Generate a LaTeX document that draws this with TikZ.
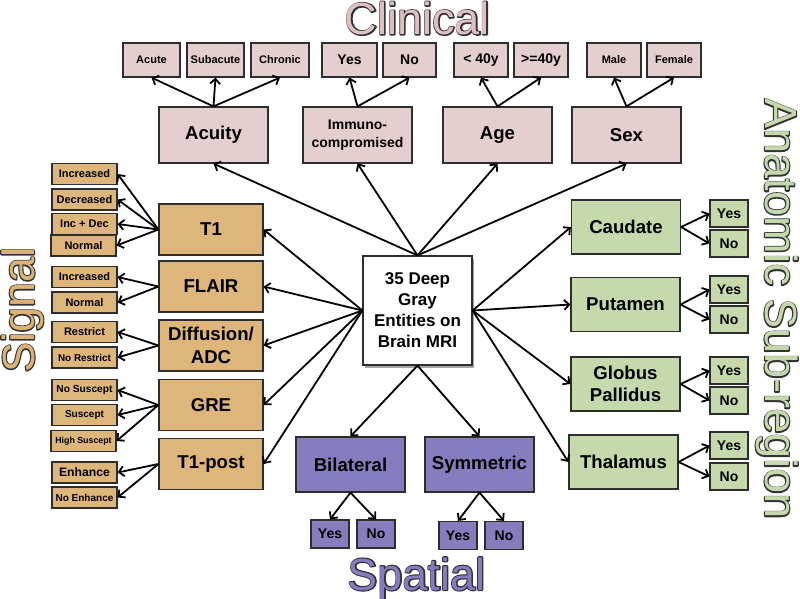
\documentclass[tikz,border=0pt]{standalone}
\usepackage{fontspec}
\setmainfont{Liberation Sans}
\usetikzlibrary{arrows.meta,shadows}
\definecolor{bord}{RGB}{45,45,45}
\definecolor{clinfill}{RGB}{229,206,207}
\definecolor{clintitle}{RGB}{222,192,194}
\definecolor{sigfill}{RGB}{222,181,122}
\definecolor{sigtitle}{RGB}{220,178,118}
\definecolor{anafill}{RGB}{197,217,172}
\definecolor{anatitle}{RGB}{197,217,172}
\definecolor{spafill}{RGB}{134,125,190}
\definecolor{spatitle}{RGB}{133,123,191}
\newcommand\myfs[2]{\fontsize{#1}{#2}\selectfont}
\newcommand\strokedtext[1]{\special{pdf:literal direct q 1 Tr 2.3 w 1 j 0.2 0.2 0.2 RG}#1\special{pdf:literal direct Q}}
\begin{document}
\begin{tikzpicture}[x=1pt,y=-1pt,
  box/.style={draw=bord, line width=1.2pt, inner sep=0pt, align=center, text=black},
  main/.style={box, minimum width=109pt, minimum height=55pt, font=\bfseries\myfs{18.6}{22.5}},
  clin/.style={main, fill=clinfill, minimum height=56pt},
  cchild/.style={box, fill=clinfill, minimum height=34pt, minimum width=54pt, font=\bfseries\myfs{11}{13}},
  smain/.style={main, fill=sigfill, minimum width=104pt, minimum height=51pt},
  schild/.style={box, fill=sigfill, minimum width=65pt, minimum height=21pt, font=\bfseries\myfs{11}{13}},
  amain/.style={main, fill=anafill, minimum height=54pt},
  achild/.style={box, fill=anafill, minimum width=38pt, minimum height=27pt, font=\bfseries\myfs{14}{16}},
  pmain/.style={main, fill=spafill},
  pchild/.style={box, fill=spafill, minimum width=38pt, minimum height=28pt, font=\bfseries\myfs{14}{16}},
  title/.style={inner sep=0pt, font=\myfs{45}{45}},
  arr/.style={-{Straight Barb[length=5pt,width=10pt]}, line width=1.8pt, black}
]
\useasboundingbox (0,0) rectangle (800,598);

% titles: dark outline underneath, filled text on top
\node[title, anchor=base] (tclinline) at (417.5,34.5) {\strokedtext{Clinical}};
\node[title, text=clintitle, anchor=base] (tclin) at (417.5,34.5) {Clinical};
\node[title, rotate=90, anchor=base] (tsigline) at (34,310) {\strokedtext{Signal}};
\node[title, text=sigtitle, rotate=90, anchor=base] (tsig) at (34,310) {Signal};
\node[title, rotate=-90, anchor=base] (tanaline) at (765,309) {\strokedtext{Anatomic Sub-region}};
\node[title, text=anatitle, rotate=-90, anchor=base] (tana) at (765,309) {Anatomic Sub-region};
\node[title, anchor=base] (tspaline) at (416.5,590) {\strokedtext{Spatial}};
\node[title, text=spatitle, anchor=base] (tspa) at (416.5,590) {Spatial};

% center
\node[box, fill=white, minimum width=109pt, minimum height=109pt, font=\bfseries\myfs{17}{21},
  drop shadow={shadow xshift=2pt, shadow yshift=-2.5pt, opacity=0.35, fill=black}] (core) at (417.5,310.5)
  {35 Deep\\Gray\\Entities on\\Brain MRI};

% clinical
\node[clin] (acuity) at (213.5,135) {Acuity};
\node[clin, font=\bfseries\myfs{14}{18}] (immuno) at (357.5,135) {Immuno-\\compromised};
\node[clin] (age) at (497.5,135) {Age};
\node[clin] (sex) at (626.5,135) {Sex};
\node[cchild, minimum width=57pt] (acute) at (151.5,60) {Acute};
\node[cchild, minimum width=57pt] (subacute) at (215.5,60) {Subacute};
\node[cchild, minimum width=58pt] (chronic) at (280,60) {Chronic};
\node[cchild, minimum width=55pt, font=\bfseries\myfs{14}{16}] (imyes) at (349.5,60) {Yes};
\node[cchild, minimum width=53pt, font=\bfseries\myfs{14}{16}] (imno) at (409.5,60) {No};
\node[cchild, font=\bfseries\myfs{14}{16}] (ageyoung) at (481,60) {< 40y};
\node[cchild, font=\bfseries\myfs{14}{16}] (ageold) at (541,60) {>=40y};
\node[cchild] (male) at (614,60) {Male};
\node[cchild] (female) at (674,60) {Female};

% signal
\node[smain] (t1) at (211,229.5) {T1};
\node[smain] (flair) at (211,286.5) {FLAIR};
\node[smain] (diff) at (211,345.5) {Diffusion/\\ADC};
\node[smain] (gre) at (211,405) {GRE};
\node[smain] (t1post) at (211,464) {T1-post};
\node[schild] (t1inc) at (84.5,174) {Increased};
\node[schild] (t1dec) at (84.5,199.5) {Decreased};
\node[schild] (t1incdec) at (84.5,224) {Inc + Dec};
\node[schild] (t1norm) at (83.5,245.5) {Normal};
\node[schild] (flinc) at (84.5,277) {Increased};
\node[schild] (flnorm) at (84.5,302.5) {Normal};
\node[schild] (dwres) at (84.5,332) {Restrict};
\node[schild, font=\bfseries\myfs{9.9}{12}] (dwnores) at (84.5,357.5) {No Restrict};
\node[schild, font=\bfseries\myfs{10.2}{12}] (grenosus) at (84.5,390) {No Suscept};
\node[schild, font=\bfseries\myfs{10}{12}] (gresus) at (84.5,415) {Suscept};
\node[schild, font=\bfseries\myfs{8.8}{11}] (grehigh) at (83.5,441) {High Suscept};
\node[schild, font=\bfseries\myfs{12.2}{14}] (postenh) at (84.5,472.5) {Enhance};
\node[schild, font=\bfseries\myfs{10}{12}] (postnoenh) at (84.5,497.5) {No Enhance};

% anatomic
\node[amain] (caud) at (626,227) {Caudate};
\node[amain] (put) at (625.5,304.5) {Putamen};
\node[amain] (glob) at (625.5,384) {Globus\\Pallidus};
\node[amain] (thal) at (623.5,462) {Thalamus};
\node[achild] (caudyes) at (729,213.5) {Yes};
\node[achild] (caudno) at (729,243.5) {No};
\node[achild] (putyes) at (729,289.5) {Yes};
\node[achild] (putno) at (729,319.5) {No};
\node[achild] (globyes) at (729,370.5) {Yes};
\node[achild] (globno) at (729,400.5) {No};
\node[achild] (thalyes) at (729,445.5) {Yes};
\node[achild] (thalno) at (729,476.5) {No};

% spatial
\node[pmain] (bilat) at (350.5,464.5) {Bilateral};
\node[pmain] (symm) at (479.5,464.5) {Symmetric};
\node[pchild] (bilyes) at (330,534) {Yes};
\node[pchild] (bilno) at (376,534) {No};
\node[pchild] (symyes) at (458,535.5) {Yes};
\node[pchild] (symno) at (504,535.5) {No};

% arrows from core
\foreach \n in {acuity,immuno,age,sex} \draw[arr] (core.north) -- (\n.south);
\foreach \n in {t1,flair,diff,gre,t1post} \draw[arr] (core.west) -- (\n.east);
\foreach \n in {caud,put,glob,thal} \draw[arr] (core.east) -- (\n.west);
\foreach \n in {bilat,symm} \draw[arr] (core.south) -- (\n.north);

% clinical children
\foreach \n in {acute,subacute,chronic} \draw[arr] (acuity.north) -- (\n.south);
\foreach \n in {imyes,imno} \draw[arr] (immuno.north) -- (\n.south);
\foreach \n in {ageyoung,ageold} \draw[arr] (age.north) -- (\n.south);
\foreach \n in {male,female} \draw[arr] (sex.north) -- (\n.south);

% signal children
\foreach \n in {t1inc,t1dec,t1incdec,t1norm} \draw[arr] (t1.west) -- (\n.east);
\foreach \n in {flinc,flnorm} \draw[arr] (flair.west) -- (\n.east);
\foreach \n in {dwres,dwnores} \draw[arr] (diff.west) -- (\n.east);
\foreach \n in {grenosus,gresus,grehigh} \draw[arr] (gre.west) -- (\n.east);
\foreach \n in {postenh,postnoenh} \draw[arr] (t1post.west) -- (\n.east);

% anatomic children
\foreach \n in {caudyes,caudno} \draw[arr] (caud.east) -- (\n.west);
\foreach \n in {putyes,putno} \draw[arr] (put.east) -- (\n.west);
\foreach \n in {globyes,globno} \draw[arr] (glob.east) -- (\n.west);
\foreach \n in {thalyes,thalno} \draw[arr] (thal.east) -- (\n.west);

% spatial children
\foreach \n in {bilyes,bilno} \draw[arr] (bilat.south) -- (\n.north);
\foreach \n in {symyes,symno} \draw[arr] (symm.south) -- (\n.north);
\end{tikzpicture}
\end{document}
